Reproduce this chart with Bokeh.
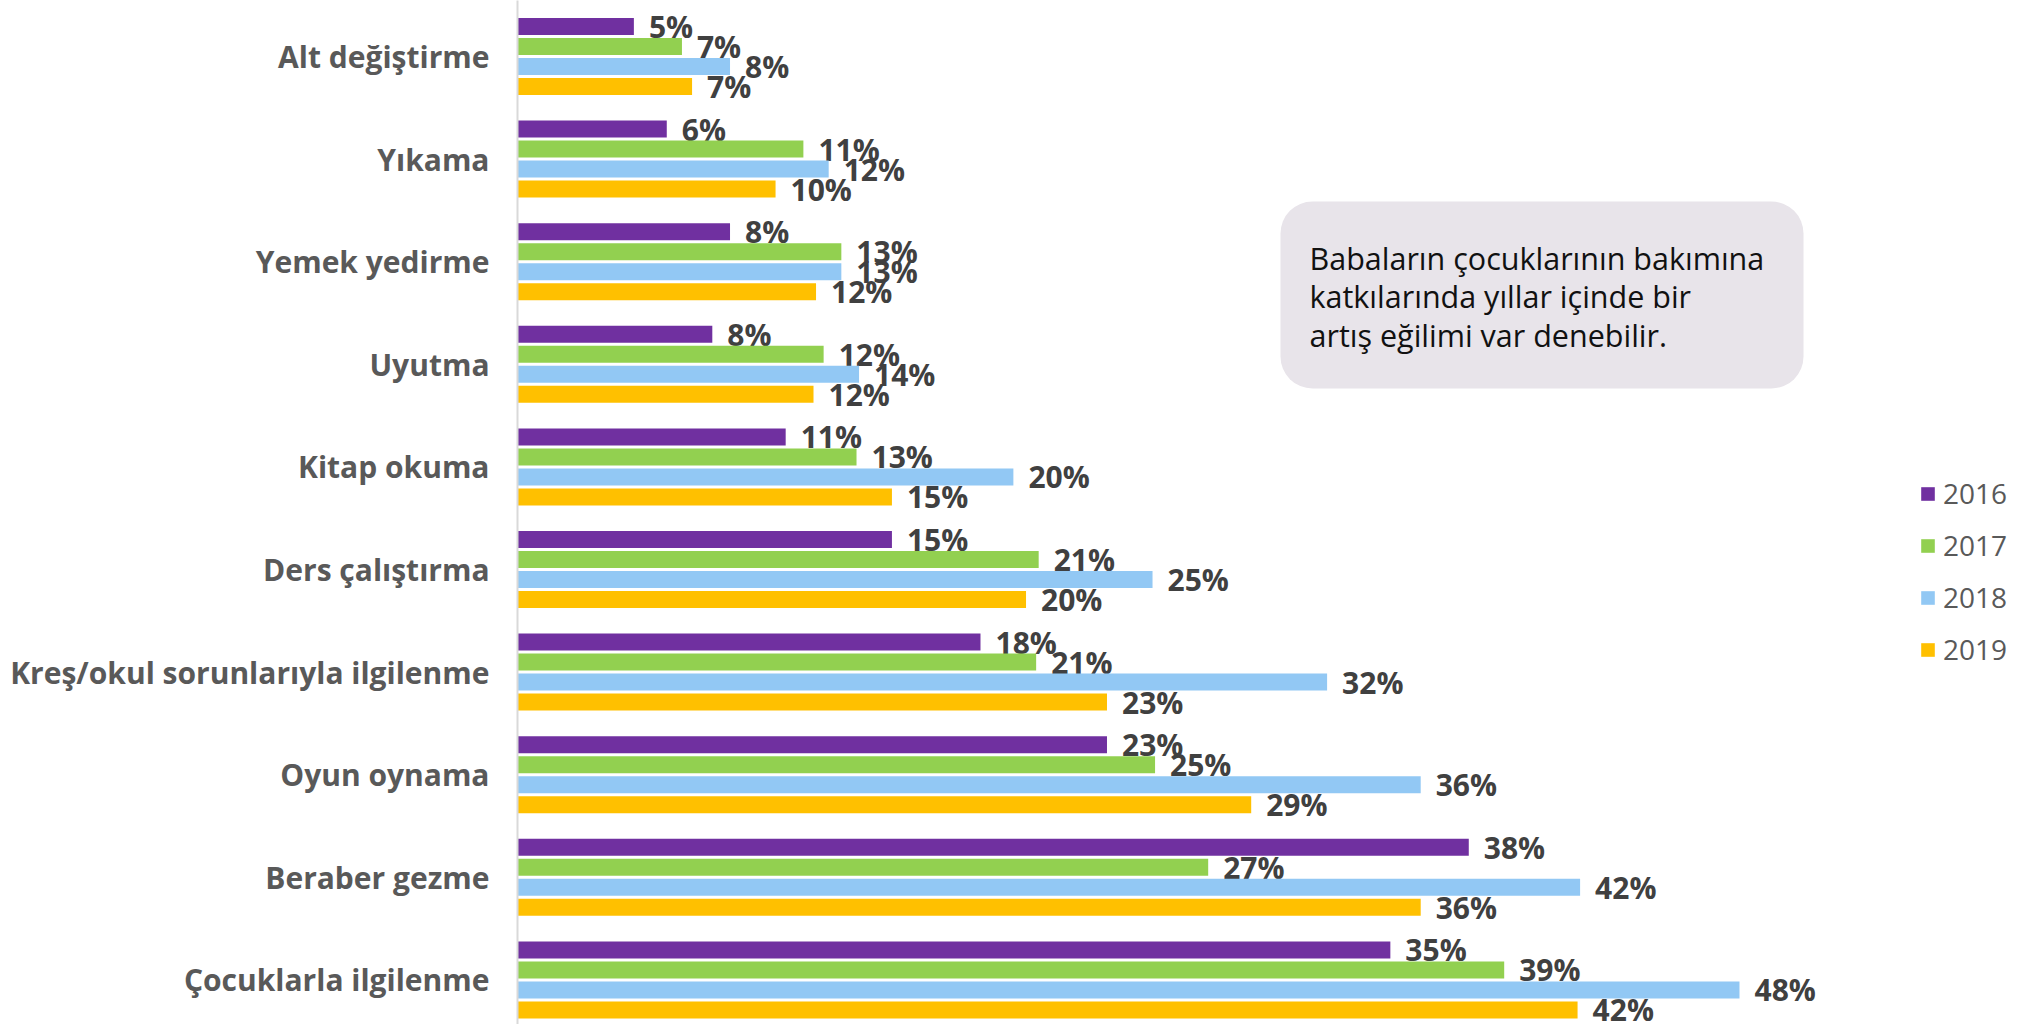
import math
from bokeh.plotting import figure
from bokeh.models import (Range1d, FixedTicker, BoxAnnotation, Label, Legend,
                          LegendItem, ColumnDataSource)
from bokeh.transform import dodge
from bokeh.core.properties import value
from bokeh.embed import file_html
from bokeh.resources import INLINE

categories = ["Alt değiştirme", "Yıkama", "Yemek yedirme", "Uyutma", "Kitap okuma",
              "Ders çalıştırma", "Kreş/okul sorunlarıyla ilgilenme", "Oyun oynama",
              "Beraber gezme", "Çocuklarla ilgilenme"]
years = ["2016", "2017", "2018", "2019"]
v2016 = [4.6, 5.9, 8.4, 7.7, 10.6, 14.8, 18.3, 23.3, 37.6, 34.5]
v2017 = [6.5, 11.3, 12.8, 12.1, 13.4, 20.6, 20.5, 25.2, 27.3, 39.0]
v2018 = [8.4, 12.3, 12.8, 13.5, 19.6, 25.1, 32.0, 35.7, 42.0, 48.3]
v2019 = [6.9, 10.2, 11.8, 11.7, 14.8, 20.1, 23.3, 29.0, 35.7, 41.9]
colors = ["#7030A0", "#92D050", "#92C8F4", "#FFC000"]
note_lines = ["Babaların çocuklarının bakımına",
              "katkılarında yıllar içinde bir",
              "artış eğilimi var denebilir."]

FONT = "Open Sans"
PITCH = 102.6          # px per category
PXPCT = 25.3           # px per percent
BORDER_L = 517
FRAME_W = 1508
FRAME_H = 1024
TOP = 0
LEFT = 0
pad_top = 56.0 / PITCH
y_end = -pad_top
y_start = FRAME_H / PITCH - pad_top


def ypx(px):
    """screen pixel -> data y"""
    return (px - TOP) / PITCH - pad_top


def xpx(px):
    return (px - (LEFT + BORDER_L)) / PXPCT


p = figure(width=BORDER_L + FRAME_W, height=FRAME_H, output_backend="svg",
           toolbar_location=None,
           x_range=Range1d(0, FRAME_W / PXPCT),
           y_range=Range1d(start=y_start, end=y_end),
           min_border_left=BORDER_L, min_border_right=0, min_border_top=0,
           min_border_bottom=0)
p.outline_line_color = None
p.xgrid.visible = False
p.ygrid.visible = False
p.xaxis.visible = False

idx = list(range(len(categories)))
yax = p.yaxis[0]
yax.ticker = FixedTicker(ticks=idx)
yax.major_label_overrides = {i: c for i, c in enumerate(categories)}
yax.major_tick_line_color = None
yax.minor_tick_line_color = None
yax.major_tick_out = 0
yax.major_tick_in = 0
yax.major_label_standoff = 28
yax.axis_line_color = "#D9D9D9"
yax.axis_line_width = 2
yax.major_label_text_font = FONT
yax.major_label_text_font_style = "bold"
yax.major_label_text_font_size = "30px"
yax.major_label_text_color = "#595959"

offsets = [-30 / PITCH, -10 / PITCH, 10 / PITCH, 30 / PITCH]
series = [v2016, v2017, v2018, v2019]
renderers = []
for k, (yr, vals, col) in enumerate(zip(years, series, colors)):
    src = ColumnDataSource(dict(idx=idx, v=vals,
                                lbl=[f"{math.floor(x + 0.5)}%" for x in vals]))
    r = p.hbar(y=dodge("idx", offsets[k]), left=0, right="v", height=17 / PITCH,
               source=src, fill_color=col, line_color=None)
    renderers.append(r)
    p.text(x="v", y=dodge("idx", offsets[k]), text="lbl", source=src,
           x_offset=15, text_align="left", text_baseline="middle",
           text_font=value(FONT), text_font_style="bold",
           text_font_size="30px", text_color="#404040")

# note box
box = BoxAnnotation(left=xpx(1280), right=xpx(1803),
                    top=ypx(201), bottom=ypx(388),
                    fill_color="#E8E4EA", fill_alpha=1.0, line_color=None,
                    border_radius=32)
p.add_layout(box)
for j, line in enumerate(note_lines):
    base_px = 257 + j * 38.5
    p.add_layout(Label(x=xpx(1309), y=ypx(base_px),
                       text=line, text_baseline="alphabetic", text_align="left",
                       text_font=FONT, text_font_size="30.5px",
                       text_color="#111111"))

# legend: item pitch ~52px, first item centred at y=492.5
item_h = 38
spacing = 14
legend_h = 4 * item_h + 3 * spacing
legend_bottom = 492.5 - item_h / 2 + legend_h
legend = Legend(items=[LegendItem(label=yr, renderers=[r]) for yr, r in zip(years, renderers)],
                location=(1919 - (LEFT + BORDER_L), int(TOP + FRAME_H - legend_bottom)),
                orientation="vertical",
                glyph_width=17, glyph_height=17, label_standoff=7,
                label_height=30, spacing=spacing, padding=0, margin=0,
                border_line_alpha=0, background_fill_alpha=0,
                label_text_font=FONT, label_text_font_size="28px",
                label_text_color="#595959")
p.add_layout(legend)

open("out.html", "w").write(file_html(p, INLINE))
